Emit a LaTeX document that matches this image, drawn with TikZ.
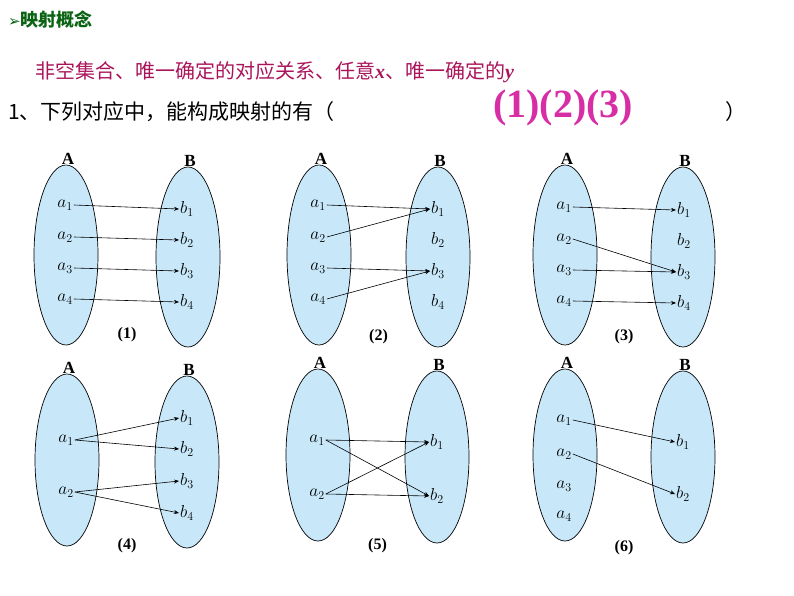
\documentclass[tikz,border=0pt]{standalone}
\usepackage{fontspec}
\setmainfont{Liberation Serif}
\newfontfamily\cjk{Noto Sans CJK SC}
\newfontfamily\dejavu{DejaVu Sans}
\usetikzlibrary{arrows.meta}
\definecolor{setfill}{RGB}{200,232,250}
\definecolor{hdgreen}{RGB}{10,100,20}
\definecolor{hdpink}{RGB}{170,20,90}
\definecolor{ansmag}{RGB}{215,45,165}
\tikzset{
 elem/.style={font=\fontsize{17}{17}\selectfont\bfseries\itshape,inner sep=1pt},
 setname/.style={font=\fontsize{17}{17}\selectfont\bfseries,inner sep=0pt},
 capt/.style={font=\fontsize{16}{16}\selectfont\bfseries,inner sep=0pt},
 arr/.style={-{Stealth[length=5pt,width=4pt]},line width=0.6pt}
}
\newcommand{\mysets}[6]{% prefix, xA, xB, yc, ry, caption y
 \fill[setfill] (#2,#4) ellipse [x radius=32,y radius=#5];
 \draw[line width=0.7pt] (#2,#4) ellipse [x radius=32,y radius=#5];
 \fill[setfill] (#3,#4+2) ellipse [x radius=32,y radius=#5];
 \draw[line width=0.7pt] (#3,#4+2) ellipse [x radius=32,y radius=#5];
 \node[setname] (#1A) at (#2+2,#4-#5-6) {A};
 \node[setname] (#1B) at (#3+2,#4-#5-4) {B};
 \node[capt] (#1cap) at ({(#2+#3)/2},#6) {(#1)};
}
\begin{document}
\begin{tikzpicture}[x=1pt,y=-1pt]
\useasboundingbox (0,0) rectangle (794,596);
\node[anchor=west,inner sep=0pt,text=hdgreen] (hd) at (8,20) {\fontsize{15}{15}\selectfont\dejavu ➢\cjk\bfseries\fontsize{18}{18}\selectfont 映射概念};
\node[anchor=west,inner sep=0pt,text=hdpink] (sub) at (35,72) {\fontsize{20}{20}\selectfont\cjk 非空集合、唯一确定的对应关系、任意\rmfamily\textbf{\textit{x}}\cjk 、唯一确定的\rmfamily\textbf{\textit{y}}};
\node[anchor=west,inner sep=0pt] (q) at (8,112) {\fontsize{21}{21}\selectfont\cjk 1、下列对应中，能构成映射的有（};
\node[anchor=west,inner sep=0pt,text=ansmag] (ans) at (493,108) {\fontsize{40}{40}\selectfont\bfseries (1)(2)(3)};
\node[anchor=west,inner sep=0pt] (qe) at (725,112) {\fontsize{21}{21}\selectfont\cjk ）};

% diagram 1
\mysets{1}{66}{188}{255}{90}{335}
\foreach \i/\y in {1/205,2/237,3/268,4/299}{\node[elem] (1a\i) at (65,\y) {$a_{\i}$};}
\foreach \i/\y in {1/209,2/240,3/271,4/302}{\node[elem] (1b\i) at (187,\y) {$b_{\i}$};}
\foreach \i in {1,...,4}{\draw[arr] (1a\i.east) -- (1b\i.west);}
% diagram 2
\mysets{2}{319}{438}{255}{90}{337}
\foreach \i/\y in {1/205,2/237,3/268,4/299}{\node[elem] (2a\i) at (318,\y) {$a_{\i}$};}
\foreach \i/\y in {1/209,2/240,3/271,4/302}{\node[elem] (2b\i) at (438,\y) {$b_{\i}$};}
\draw[arr] (2a1.east) -- (2b1.west);
\draw[arr] (2a2.east) -- (2b1.west);
\draw[arr] (2a3.east) -- (2b3.west);
\draw[arr] (2a4.east) -- (2b3.west);
% diagram 3
\mysets{3}{565}{683}{255}{90}{337}
\foreach \i/\y in {1/207,2/239,3/270,4/301}{\node[elem] (3a\i) at (564,\y) {$a_{\i}$};}
\foreach \i/\y in {1/210,2/241,3/272,4/303}{\node[elem] (3b\i) at (684,\y) {$b_{\i}$};}
\draw[arr] (3a1.east) -- (3b1.west);
\draw[arr] (3a2.east) -- (3b3.west);
\draw[arr] (3a3.east) -- (3b3.west);
\draw[arr] (3a4.east) -- (3b4.west);
% diagram 4
\mysets{4}{67}{187}{460}{86}{546}
\foreach \i/\y in {1/440,2/492}{\node[elem] (4a\i) at (66,\y) {$a_{\i}$};}
\foreach \i/\y in {1/418,2/449,3/481,4/513}{\node[elem] (4b\i) at (187,\y) {$b_{\i}$};}
\draw[arr] (4a1.east) -- (4b1.west);
\draw[arr] (4a1.east) -- (4b2.west);
\draw[arr] (4a2.east) -- (4b3.west);
\draw[arr] (4a2.east) -- (4b4.west);
% diagram 5
\mysets{5}{318}{437}{455}{86}{546}
\foreach \i/\y in {1/440,2/494}{\node[elem] (5a\i) at (317,\y) {$a_{\i}$};}
\foreach \i/\y in {1/442,2/496}{\node[elem] (5b\i) at (437,\y) {$b_{\i}$};}
\draw[arr] (5a1.east) -- (5b1.west);
\draw[arr] (5a1.east) -- (5b2.west);
\draw[arr] (5a2.east) -- (5b1.west);
\draw[arr] (5a2.east) -- (5b2.west);
% diagram 6
\mysets{6}{565}{683}{455}{86}{548}
\foreach \i/\y in {1/420,2/454,3/486,4/516}{\node[elem] (6a\i) at (564,\y) {$a_{\i}$};}
\foreach \i/\y in {1/442,2/494}{\node[elem] (6b\i) at (683,\y) {$b_{\i}$};}
\draw[arr] (6a1.east) -- (6b1.west);
\draw[arr] (6a2.east) -- (6b2.west);
\end{tikzpicture}
\end{document}
